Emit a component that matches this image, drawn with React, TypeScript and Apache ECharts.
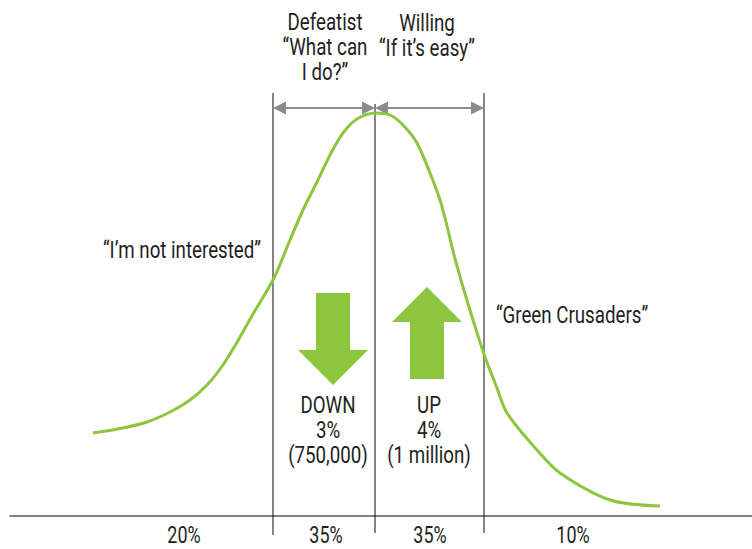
import React, { useEffect, useRef } from "react";
import * as echarts from "echarts";

// Bell curve (adoption attitude distribution)
const curveX = [83, 113, 137, 160, 180, 197, 213, 226, 243, 264, 280, 293, 308, 320, 333, 347, 366, 380, 393, 407, 420, 430, 437, 443, 453, 463, 475, 487, 497, 527, 550, 600, 650];
const curveY = [83, 88, 94, 104, 116, 131, 151, 172, 202, 238, 276, 306, 336, 361, 383, 397, 403, 401, 391, 373, 343, 316, 290, 265, 229, 196, 159, 128, 103, 66, 43, 16, 10];

// Segment dividers
const dividerX = [263, 365, 474];
const dividerTop = [423, 412, 423];
const dividerBottom = [-19, -17, -17];

// Gray double-headed span arrows
const spanStart = [263, 365];
const spanEnd = [365, 474];
const spanY = [408, 408];

// Bottom segment shares
const segmentLabels = ["20%", "35%", "35%", "10%"];
const segmentLabelX = [174, 316, 420, 563];
const segmentLabelY = -19;

// Green change arrows
const arrowX = [323, 417];
const arrowTail = [223, 137];
const arrowTip = [131, 229];
const arrowTexts = ["DOWN\n3%\n(750,000)", "UP\n4%\n(1 million)"];
const arrowTextX = [318, 419];
const arrowTextY = [86, 86];

// Headers above spans
const headerTexts = ["Defeatist\n\u201CWhat can\nI do?\u201D", "Willing\n\u201CIf it\u2019s easy\u201D"];
const headerX = [315, 417];
const headerY = [469, 481];

// Side labels
const sideTexts = ["\u201CI\u2019m not interested\u201D", "\u201CGreen Crusaders\u201D"];
const sideX = [172, 562];
const sideY = [266, 201];

const GREEN = "#8cc63f";
const GRAY = "#8c8c8c";
const TEXT = "#231f20";
const FONT = "Roboto, 'Liberation Sans', sans-serif";

export default function App() {
  const ref = useRef<HTMLDivElement>(null);
  useEffect(() => {
    document.body.style.margin = "0";
    if (!ref.current) return;
    const chart = echarts.init(ref.current, undefined, { renderer: "svg" });

    const textItems: any[] = [];
    headerTexts.forEach((t, i) => textItems.push([headerX[i], headerY[i], t, 24, 25]));
    arrowTexts.forEach((t, i) => textItems.push([arrowTextX[i], arrowTextY[i], t, 24, 25]));
    sideTexts.forEach((t, i) => textItems.push([sideX[i], sideY[i], t, 24, 25]));
    segmentLabels.forEach((t, i) => textItems.push([segmentLabelX[i], segmentLabelY, t, 23, 18]));

    chart.setOption({
      animation: false,
      grid: { left: 10, right: 0, top: 0, bottom: 0, containLabel: false },
      xAxis: {
        type: "value",
        min: 0,
        max: 742,
        axisLine: { show: true, onZero: true, lineStyle: { color: "#555", width: 1.5 } },
        axisTick: { show: false },
        axisLabel: { show: false },
        splitLine: { show: false },
      },
      yAxis: {
        type: "value",
        min: -33,
        max: 516,
        show: false,
        splitLine: { show: false },
      },
      series: [
        {
          type: "custom",
          name: "dividers",
          silent: true,
          data: dividerX.map((x, i) => [x, dividerTop[i], dividerBottom[i]]),
          renderItem: (params: any, api: any) => {
            const p1 = api.coord([api.value(0), api.value(1)]);
            const p2 = api.coord([api.value(0), api.value(2)]);
            return {
              type: "line",
              shape: { x1: p1[0], y1: p1[1], x2: p2[0], y2: p2[1] },
              style: { stroke: "#222", lineWidth: 1.1 },
            };
          },
          z: 1,
        },
        {
          type: "custom",
          name: "spans",
          silent: true,
          data: spanStart.map((s, i) => [s, spanEnd[i], spanY[i]]),
          renderItem: (params: any, api: any) => {
            const p1 = api.coord([api.value(0), api.value(2)]);
            const p2 = api.coord([api.value(1), api.value(2)]);
            const hl = 13;
            const hw = 6.5;
            const y = p1[1];
            return {
              type: "group",
              children: [
                {
                  type: "line",
                  shape: { x1: p1[0] + hl - 1, y1: y, x2: p2[0] - hl + 1, y2: y },
                  style: { stroke: GRAY, lineWidth: 2.2 },
                },
                {
                  type: "polygon",
                  shape: { points: [[p1[0], y], [p1[0] + hl, y - hw], [p1[0] + hl, y + hw]] },
                  style: { fill: GRAY },
                },
                {
                  type: "polygon",
                  shape: { points: [[p2[0], y], [p2[0] - hl, y - hw], [p2[0] - hl, y + hw]] },
                  style: { fill: GRAY },
                },
              ],
            };
          },
          z: 2,
        },
        {
          type: "custom",
          name: "change arrows",
          silent: true,
          data: arrowX.map((x, i) => [x, arrowTail[i], arrowTip[i]]),
          renderItem: (params: any, api: any) => {
            const pTail = api.coord([api.value(0), api.value(1)]);
            const pTip = api.coord([api.value(0), api.value(2)]);
            const dir = pTip[1] > pTail[1] ? 1 : -1;
            const headLen = 35;
            const shaftHalf = 17;
            const headHalf = 35;
            const cx = pTail[0];
            const baseY = pTip[1] - dir * headLen;
            return {
              type: "polygon",
              shape: {
                points: [
                  [cx - shaftHalf, pTail[1]],
                  [cx + shaftHalf, pTail[1]],
                  [cx + shaftHalf, baseY],
                  [cx + headHalf, baseY],
                  [cx, pTip[1]],
                  [cx - headHalf, baseY],
                  [cx - shaftHalf, baseY],
                ],
              },
              style: { fill: GREEN },
            };
          },
          z: 3,
        },
        {
          type: "line",
          name: "distribution",
          silent: true,
          data: curveX.map((x, i) => [x, curveY[i]]),
          smooth: 0.3,
          showSymbol: false,
          lineStyle: { color: GREEN, width: 3 },
          z: 4,
        },
        {
          type: "custom",
          name: "labels",
          silent: true,
          data: textItems.map((d) => [d[0], d[1]]),
          renderItem: (params: any, api: any) => {
            const p = api.coord([api.value(0), api.value(1)]);
            const item = textItems[params.dataIndex];
            return {
              type: "text",
              x: p[0],
              y: p[1],
              scaleX: 0.78,
              style: {
                text: item[2],
                fill: TEXT,
                fontSize: item[3],
                lineHeight: item[4],
                fontFamily: FONT,
                align: "center",
                verticalAlign: "middle",
              },
            };
          },
          z: 5,
        },
      ],
    });
    return () => chart.dispose();
  }, []);
  return <div ref={ref} style={{ width: 752, height: 549 }} />;
}
